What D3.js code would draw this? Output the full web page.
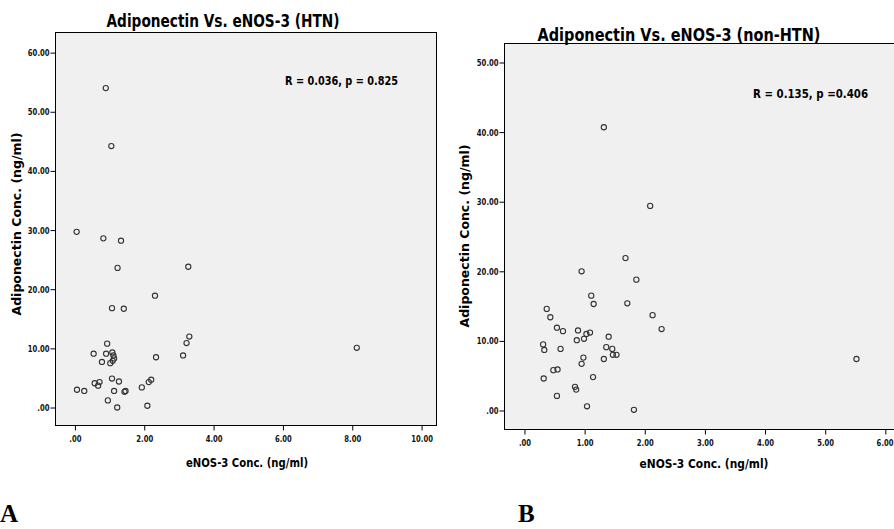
<!DOCTYPE html>
<html>
<head>
<meta charset="utf-8">
<script src="https://cdn.jsdelivr.net/npm/d3@7"></script>
<style>
  body { margin: 0; background: #fff; }
  svg { display: block; }
  .cond { font-family: "DejaVu Sans", sans-serif; font-weight: bold; }
</style>
</head>
<body>
<div id="chart"></div>
<script>
// HTN group (panel A)
const htnEnos = [0.89, 1.05, 0.05, 0.82, 1.33, 1.23, 3.27, 2.31, 1.07, 1.41,
  3.30, 3.22, 3.12, 8.13, 2.34, 0.93, 0.54, 0.90, 1.08, 1.11,
  1.13, 1.09, 1.02, 0.78, 1.07, 1.27, 0.57, 0.71, 0.67, 0.06,
  0.27, 1.13, 1.43, 1.46, 1.93, 2.13, 2.20, 0.95, 1.22, 2.09];
const htnAdipo = [54.0, 44.2, 29.7, 28.6, 28.2, 23.6, 23.8, 18.9, 16.8, 16.7,
  12.0, 10.9, 8.8, 10.1, 8.5, 10.8, 9.1, 9.1, 9.3, 8.8,
  8.3, 7.9, 7.5, 7.7, 4.9, 4.4, 4.1, 4.3, 3.7, 3.0,
  2.8, 2.8, 2.65, 2.8, 3.4, 4.3, 4.7, 1.2, 0.0, 0.3];

// non-HTN group (panel B)
const nonHtnEnos = [1.32, 2.09, 1.68, 0.95, 1.86, 1.11, 0.37, 1.15, 1.71, 0.43,
  2.13, 0.54, 0.64, 0.89, 1.03, 1.09, 0.99, 0.87, 1.40, 2.28,
  0.31, 0.33, 0.60, 1.36, 1.46, 1.47, 1.53, 1.32, 0.98, 0.95,
  0.48, 0.55, 0.32, 1.14, 0.84, 0.86, 0.54, 1.04, 1.82, 5.52];
const nonHtnAdipo = [40.7, 29.4, 21.9, 20.0, 18.8, 16.5, 14.6, 15.3, 15.4, 13.4,
  13.7, 11.9, 11.4, 11.5, 11.0, 11.2, 10.3, 10.1, 10.6, 11.7,
  9.5, 8.7, 8.85, 9.1, 8.85, 8.0, 8.0, 7.4, 7.6, 6.7,
  5.8, 5.9, 4.6, 4.8, 3.4, 3.0, 2.1, 0.6, 0.1, 7.4];

const htnXTicks = [0, 2, 4, 6, 8, 10];
const htnYTicks = [0, 10, 20, 30, 40, 50, 60];
const nonHtnXTicks = [0, 1, 2, 3, 4, 5, 6];
const nonHtnYTicks = [0, 10, 20, 30, 40, 50];

const width = 894, height = 529;
const svg = d3.select('#chart').append('svg')
  .attr('width', width)
  .attr('height', height);

const fmt = d => d === 0 ? '.00' : d.toFixed(2);

// squeeze glyphs horizontally to mimic the narrow SPSS font
function condense(sel, factor) {
  sel.each(function() {
    const w = this.getComputedTextLength();
    d3.select(this)
      .attr('textLength', w * factor)
      .attr('lengthAdjust', 'spacingAndGlyphs');
  });
}

function label(x, y, txt, size, w, anchor) {
  return svg.append('text')
    .attr('class', 'cond')
    .attr('x', x).attr('y', y)
    .attr('text-anchor', anchor || 'middle')
    .attr('font-size', size)
    .attr('fill', '#000')
    .attr('textLength', w)
    .attr('lengthAdjust', 'spacingAndGlyphs')
    .text(txt);
}

function drawPanel(p) {
  const x = d3.scaleLinear().domain(p.xDomain).range([p.left, p.right]);
  const y = d3.scaleLinear().domain(p.yDomain).range([p.bottom, p.top]);

  // plot background and frame
  svg.append('rect')
    .attr('x', p.left).attr('y', p.top)
    .attr('width', p.right - p.left).attr('height', p.bottom - p.top)
    .attr('fill', '#f0f0f0')
    .attr('stroke', '#000')
    .attr('stroke-width', 1);

  const xAxis = svg.append('g')
    .attr('transform', `translate(0,${p.bottom})`)
    .call(d3.axisBottom(x).tickValues(p.xTicks).tickFormat(fmt).tickSize(5).tickSizeOuter(0));
  const yAxis = svg.append('g')
    .attr('transform', `translate(${p.left},0)`)
    .call(d3.axisLeft(y).tickValues(p.yTicks).tickFormat(fmt).tickSize(5).tickSizeOuter(0));
  [xAxis, yAxis].forEach(a => {
    a.select('.domain').remove();
    a.selectAll('line').attr('stroke', '#000');
    a.selectAll('text')
      .attr('class', 'cond')
      .attr('fill', '#111')
      .attr('font-size', '9.5px');
    condense(a.selectAll('text'), 0.72);
  });
  xAxis.selectAll('text').attr('y', 8).attr('dy', '0.9em');
  yAxis.selectAll('text').attr('x', -6);

  // right-align a tick label that would run past the picture edge
  xAxis.selectAll('.tick').each(function(d) {
    const t = d3.select(this).select('text');
    const half = +t.attr('textLength') / 2;
    if (x(d) + half > width - 1) {
      t.attr('text-anchor', 'end').attr('x', width - 1 - x(d));
    }
  });

  // points
  svg.append('g').selectAll('circle')
    .data(p.xs.map((d, i) => [d, p.ys[i]]))
    .enter()
    .append('circle')
    .attr('cx', d => x(d[0]))
    .attr('cy', d => y(d[1]))
    .attr('r', 2.6)
    .attr('fill', 'none')
    .attr('stroke', '#333')
    .attr('stroke-width', 1.1);

  // titles and labels
  label(p.titleX, p.titleY, p.title, '18px', p.titleW);
  label(p.statX, p.statY, p.stat, '12.5px', p.statW, 'start');
  label(p.xLabelX, p.xLabelY, 'eNOS-3 Conc. (ng/ml)', '12.5px', p.xLabelW);

  svg.append('text')
    .attr('class', 'cond')
    .attr('transform', `translate(${p.yLabelX},${p.yLabelY}) rotate(-90)`)
    .attr('text-anchor', 'middle')
    .attr('font-size', '12.5px')
    .attr('fill', '#000')
    .text('Adiponectin Conc. (ng/ml)');

  svg.append('text')
    .attr('x', p.letterX).attr('y', 522)
    .attr('font-family', '"Liberation Serif", "Times New Roman", serif')
    .attr('font-weight', 'bold')
    .attr('font-size', '25px')
    .attr('fill', '#000')
    .text(p.letter);
}

drawPanel({
  xs: htnEnos, ys: htnAdipo, xTicks: htnXTicks, yTicks: htnYTicks,
  xDomain: [-0.56, 10.43], yDomain: [-3.04, 63.4],
  left: 55.5, right: 436.5, top: 32.5, bottom: 425.5,
  title: 'Adiponectin Vs. eNOS-3 (HTN)', titleX: 223, titleY: 27, titleW: 233,
  stat: 'R = 0.036, p = 0.825', statX: 285, statY: 85, statW: 113,
  xLabelX: 247, xLabelY: 467, xLabelW: 122,
  yLabelX: 21, yLabelY: 224,
  letter: 'A', letterX: 0
});

drawPanel({
  xs: nonHtnEnos, ys: nonHtnAdipo, xTicks: nonHtnXTicks, yTicks: nonHtnYTicks,
  xDomain: [-0.332, 6.41], yDomain: [-2.73, 52.73],
  left: 504.5, right: 910, top: 43.5, bottom: 429.5,
  title: 'Adiponectin Vs. eNOS-3 (non-HTN)', titleX: 679, titleY: 41, titleW: 283,
  stat: 'R = 0.135, p =0.406', statX: 753, statY: 98, statW: 115,
  xLabelX: 704, xLabelY: 468, xLabelW: 129,
  yLabelX: 469, yLabelY: 236,
  letter: 'B', letterX: 518
});
</script>
</body>
</html>
